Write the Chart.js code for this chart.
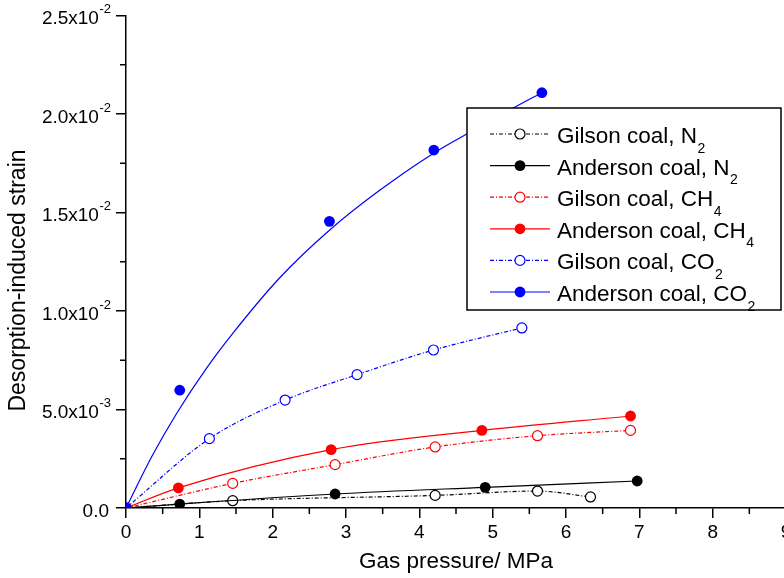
<!DOCTYPE html>
<html><head><meta charset="utf-8">
<script src="https://cdn.jsdelivr.net/npm/chart.js@4/dist/chart.umd.min.js"></script>
<style>
html,body{margin:0;padding:0;overflow:hidden;background:#fff;width:784px;height:578px}
#wrap{width:800px;height:578px;position:relative}
canvas{display:block}
</style></head>
<body><div id="wrap"><canvas id="c" width="800" height="578" style="width:800px;height:578px"></canvas></div>
<script>
// ---- data ----
const pressureGilsonN2 = [0, 1.455, 4.216, 5.611, 6.334];
const strainGilsonN2   = [0, 0.00037, 0.00064, 0.00086, 0.00056];
const pressureAndersonN2 = [0, 0.733, 2.851, 4.898, 6.971];
const strainAndersonN2   = [0, 0.00020, 0.00071, 0.00105, 0.00137];
const pressureGilsonCH4 = [0, 1.455, 2.851, 4.216, 5.611, 6.88];
const strainGilsonCH4   = [0, 0.00125, 0.00220, 0.00310, 0.00367, 0.00394];
const pressureAndersonCH4 = [0, 0.714, 2.797, 4.853, 6.88];
const strainAndersonCH4   = [0, 0.00102, 0.00296, 0.00394, 0.00467];
const pressureGilsonCO2 = [0, 1.137, 2.17, 3.151, 4.193, 5.398];
const strainGilsonCO2   = [0, 0.00352, 0.00548, 0.00677, 0.00802, 0.00914];
const pressureAndersonCO2 = [0, 0.733, 2.774, 4.198, 5.671];
const strainAndersonCO2   = [0, 0.00598, 0.01455, 0.01817, 0.02108];
// fitted curve of Anderson coal, CO2
const pressureAndersonCO2Fit = [0, 0.35, 0.69, 1.08, 1.464, 2.10, 2.774, 3.45, 4.19, 4.75, 5.28, 5.671];
const strainAndersonCO2Fit   = [0, 0.0026, 0.0048, 0.0070, 0.0089, 0.0117, 0.0141, 0.0161, 0.0180, 0.0192, 0.0203, 0.02108];

const seriesLabels = ['Gilson coal, N₂','Anderson coal, N₂','Gilson coal, CH₄','Anderson coal, CH₄','Gilson coal, CO₂','Anderson coal, CO₂'];
const seriesColors = ['#000000','#000000','#ff0000','#ff0000','#0000ff','#0000ff'];
const seriesFilled = [false, true, false, true, false, true];

const xTickValues = [0,1,2,3,4,5,6,7,8,9];
const yTickValues = [0, 0.005, 0.010, 0.015, 0.020, 0.025];
const yTickMantissa = ['0.0','5.0x10','1.0x10','1.5x10','2.0x10','2.5x10'];
const yTickExponent = ['','-3','-2','-2','-2','-2'];
const xTitle = 'Gas pressure/ MPa';
const yTitle = 'Desorption-induced strain';

const FONT = "'Liberation Sans', Arial, Helvetica, sans-serif";
const DASH = [4,2,1,2];

function pts(xs, ys){ return xs.map((x,i)=>({x:x, y:ys[i]})); }
const seriesData = [
  pts(pressureGilsonN2, strainGilsonN2),
  pts(pressureAndersonN2, strainAndersonN2),
  pts(pressureGilsonCH4, strainGilsonCH4),
  pts(pressureAndersonCH4, strainAndersonCH4),
  pts(pressureGilsonCO2, strainGilsonCO2),
  pts(pressureAndersonCO2, strainAndersonCO2)
];

const datasets = [];
seriesLabels.forEach((lab, i) => {
  const c = seriesColors[i], f = seriesFilled[i];
  const isFitSeparate = (i === 5);
  datasets.push({
    label: lab,
    data: seriesData[i],
    showLine: !isFitSeparate,
    borderColor: c,
    borderWidth: 1.2,
    borderDash: f ? [] : DASH,
    cubicInterpolationMode: 'monotone',
    pointRadius: f ? 5.4 : 5,
    pointBorderWidth: f ? 0 : 1.2,
    pointBackgroundColor: f ? c : '#ffffff',
    pointBorderColor: c,
    order: 6 - i
  });
});
datasets.push({
  label: 'fit',
  data: pts(pressureAndersonCO2Fit, strainAndersonCO2Fit),
  borderColor: '#0000ff',
  borderWidth: 1.2,
  cubicInterpolationMode: 'monotone',
  pointRadius: 0,
  order: 20
});

const subMap = {'₀':'0','₁':'1','₂':'2','₃':'3','₄':'4','₅':'5','₆':'6','₇':'7','₈':'8','₉':'9'};

const customPlugin = {
  id: 'custom',
  afterDraw(chart) {
    const ctx = chart.ctx;
    const xs = chart.scales.x, ys = chart.scales.y;
    const ca = chart.chartArea;
    ctx.save();
    // minor ticks
    ctx.strokeStyle = '#000'; ctx.lineWidth = 1.5; ctx.setLineDash([]);
    ctx.beginPath();
    for (let i = 0; i < xTickValues.length - 1; i++) {
      const px = xs.getPixelForValue((xTickValues[i] + xTickValues[i+1]) / 2);
      ctx.moveTo(px, ca.bottom); ctx.lineTo(px, ca.bottom + 6);
    }
    for (let i = 0; i < yTickValues.length - 1; i++) {
      const py = ys.getPixelForValue((yTickValues[i] + yTickValues[i+1]) / 2);
      ctx.moveTo(ca.left, py); ctx.lineTo(ca.left - 6, py);
    }
    ctx.stroke();
    // y tick labels with superscripts
    ctx.fillStyle = '#000';
    ctx.textAlign = 'right'; ctx.textBaseline = 'alphabetic';
    const xr = 111;
    yTickValues.forEach((v, i) => {
      const py = ys.getPixelForValue(v);
      const base = py + 8.5;
      let right = xr;
      if (yTickExponent[i]) {
        ctx.font = '13px ' + FONT;
        ctx.fillText(yTickExponent[i], xr, base - 11);
        right = xr - ctx.measureText(yTickExponent[i]).width - 0.5;
      } else {
        right = xr - 2;
      }
      ctx.font = '19px ' + FONT;
      ctx.fillText(yTickMantissa[i], right, base);
    });
    // y title
    ctx.save();
    ctx.translate(19, 280.5);
    ctx.rotate(-Math.PI/2);
    ctx.textAlign = 'center'; ctx.textBaseline = 'middle';
    ctx.font = '23px ' + FONT;
    ctx.fillText(yTitle, 0, 0);
    ctx.restore();
    // legend
    const L = 467, T = 108, R = 781, B = 310;
    ctx.fillStyle = '#fff';
    ctx.fillRect(L, T, R - L, B - T);
    ctx.strokeStyle = '#000'; ctx.lineWidth = 1.5;
    ctx.strokeRect(L, T, R - L, B - T);
    seriesLabels.forEach((lab, i) => {
      const ry = 134 + i * 31.6;
      const c = seriesColors[i], f = seriesFilled[i];
      ctx.strokeStyle = c; ctx.lineWidth = 1.2;
      ctx.setLineDash(f ? [] : DASH);
      ctx.beginPath(); ctx.moveTo(490, ry); ctx.lineTo(550, ry); ctx.stroke();
      ctx.setLineDash([]);
      ctx.beginPath(); ctx.arc(520, ry, f ? 5.4 : 5, 0, Math.PI*2);
      ctx.fillStyle = f ? c : '#fff'; ctx.fill();
      if (!f) { ctx.lineWidth = 1.2; ctx.strokeStyle = c; ctx.stroke(); }
      let main = lab, sub = '';
      const last = lab.slice(-1);
      if (subMap[last]) { main = lab.slice(0, -1); sub = subMap[last]; }
      ctx.fillStyle = '#000'; ctx.textAlign = 'left'; ctx.textBaseline = 'alphabetic';
      ctx.font = '22.5px ' + FONT;
      const base = ry + 9;
      ctx.fillText(main, 557, base);
      const w = ctx.measureText(main).width;
      if (sub) { ctx.font = '14px ' + FONT; ctx.fillText(sub, 557 + w + 0.5, base + 9.5); }
    });
    ctx.restore();
  }
};

new Chart(document.getElementById('c'), {
  type: 'line',
  data: { datasets: datasets },
  options: {
    responsive: false,
    animation: false,
    devicePixelRatio: 1,
    layout: { padding: { top: 15.5, right: 14, left: 0, bottom: 0 } },
    plugins: { legend: { display: false }, tooltip: { enabled: false } },
    scales: {
      x: {
        type: 'linear', min: 0, max: 9,
        afterBuildTicks: s => { s.ticks = xTickValues.map(v => ({ value: v })); },
        afterFit: s => { s.height = 70; },
        ticks: { color: '#000', font: { family: FONT, size: 19 }, padding: 3, maxRotation: 0 },
        grid: { drawOnChartArea: false, drawTicks: true, tickLength: 10, color: '#000', lineWidth: 1.5 },
        border: { color: '#000', width: 1.5 },
        title: { display: true, text: xTitle, color: '#000', font: { family: FONT, size: 22.5 }, padding: { top: 0, bottom: 3 } }
      },
      y: {
        type: 'linear', min: 0, max: 0.025,
        afterBuildTicks: s => { s.ticks = yTickValues.map(v => ({ value: v })); },
        afterFit: s => { s.width = 126; },
        ticks: { display: false },
        grid: { drawOnChartArea: false, drawTicks: true, tickLength: 10, color: '#000', lineWidth: 1.5 },
        border: { color: '#000', width: 1.5 }
      }
    }
  },
  plugins: [customPlugin]
});
</script>
</body></html>
